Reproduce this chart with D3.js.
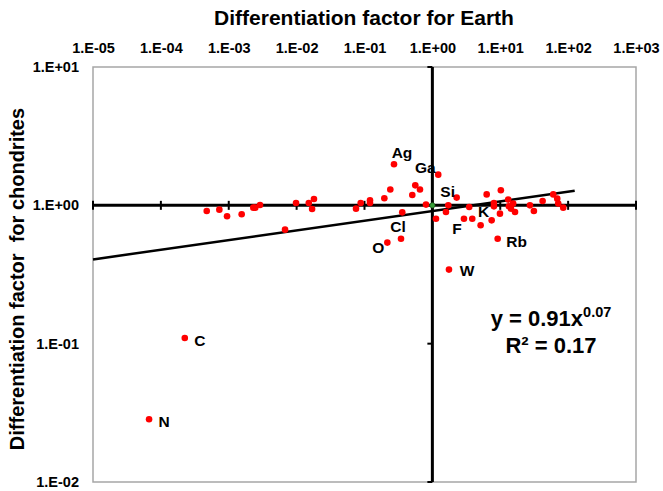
<!DOCTYPE html>
<html>
<head>
<meta charset="utf-8">
<script src="https://cdn.jsdelivr.net/npm/d3@7"></script>
<style>
  html, body { margin: 0; padding: 0; background: #fff; }
  svg { display: block; font-family: "Liberation Sans", Arial, sans-serif; }
</style>
</head>
<body>
<svg id="chart" width="663" height="491"></svg>
<script>
// Differentiation factors: Earth (x) vs chondrites (y), one entry per element
const earthFactor = [
  4.74e-4, 7.27e-4, 9.44e-4, 1.55e-3, 2.30e-3, 2.46e-3, 2.89e-3, 6.75e-3, 9.8e-3, 1.51e-2, 1.80e-2, 1.69e-2,
  0.272, 1.22, 0.56, 0.657, 0.506, 0.240, 0.196, 0.1205, 0.1205, 0.0879, 0.075, 0.360, 0.805,
  1.13, 1.585, 1.715, 2.28, 0.345, 0.217, 1.756,
  3.49, 2.92, 3.87, 5.14, 7.47, 9.90, 6.31, 10.2, 8.07, 8.07, 13.1, 13.4, 15.5, 16.5, 14.4,
  27.4, 31.3, 42.1, 60.4, 69.1, 71.5, 84.7, 9.16,
  2.25e-4, 6.70e-5
];
const chondriteFactor = [
  0.909, 0.931, 0.833, 0.861, 0.962, 0.962, 1.005, 0.667, 1.039, 1.039, 1.11, 0.940,
  1.98, 1.667, 1.395, 1.30, 1.187, 1.30, 1.124, 1.087, 1.039, 1.039, 0.946, 0.890, 1.012,
  0.80, 0.895, 1.0, 1.137, 0.574, 0.538, 0.343,
  0.972, 0.80, 0.80, 0.717, 0.779, 0.871, 1.20, 1.284, 1.039, 0.983, 1.10, 0.983, 1.029, 0.895, 0.946,
  1.0, 0.909, 1.074, 1.20, 1.118, 1.029, 0.962, 0.574,
  0.1098, 0.0284
];
const pointLabels = [
  "", "", "", "", "", "", "", "", "", "", "", "",
  "Ag", "Ga", "", "", "", "", "", "", "", "", "", "", "",
  "", "", "", "Si", "Cl", "O", "W",
  "", "F", "", "", "K", "", "", "", "", "", "", "", "", "", "",
  "", "", "", "", "", "", "", "Rb",
  "C", "N"
];
// reference point at (1, 1)
const unityPoint = [1, 1];

// power-law trend y = a·x^b
const trendA = 0.91, trendB = 0.07, trendR2 = 0.17;
const trendRange = [1e-5, 125];

const xTickValues = [1e-5, 1e-4, 1e-3, 1e-2, 1e-1, 1e0, 1e1, 1e2, 1e3];
const xTickLabels = ["1.E-05", "1.E-04", "1.E-03", "1.E-02", "1.E-01", "1.E+00", "1.E+01", "1.E+02", "1.E+03"];
const yTickValues = [1e-2, 1e-1, 1e0, 1e1];
const yTickLabels = ["1.E-02", "1.E-01", "1.E+00", "1.E+01"];

// label placement relative to each labelled point (label centre)
const labelOffset = {
  Ag: [8, -12], Ga: [-13, -7], Si: [-9, -6], Cl: [-3, -12], O: [-9, 5],
  W: [18, 1], F: [-7, 10], K: [-8, -9], Rb: [19, 3], C: [15, 2], N: [15, 2]
};

const svg = d3.select("#chart");
const plotLeft = 93, plotRight = 636, plotTop = 67, plotBottom = 482;

const x = d3.scaleLog().domain([1e-5, 1e3]).range([plotLeft, plotRight]);
const y = d3.scaleLog().domain([1e-2, 1e1]).range([plotBottom, plotTop]);

// plot frame
svg.append("rect")
  .attr("x", plotLeft).attr("y", plotTop)
  .attr("width", plotRight - plotLeft).attr("height", plotBottom - plotTop)
  .attr("fill", "#fff").attr("stroke", "#a6a6a6").attr("stroke-width", 1.5);

// tick labels along the top and left
const topAxis = d3.axisTop(x).tickValues(xTickValues)
  .tickFormat((d, i) => xTickLabels[i]).tickSize(0).tickPadding(14);
svg.append("g").attr("transform", `translate(0,${plotTop})`).call(topAxis)
  .call(g => g.select(".domain").remove())
  .selectAll("text")
  .attr("font-family", "Liberation Sans, Arial, sans-serif")
  .attr("font-size", 14.5).attr("font-weight", "bold").attr("fill", "#000");

const leftAxis = d3.axisLeft(y).tickValues(yTickValues)
  .tickFormat((d, i) => yTickLabels[i]).tickSize(0).tickPadding(14);
svg.append("g").attr("transform", `translate(${plotLeft},0)`).call(leftAxis)
  .call(g => g.select(".domain").remove())
  .selectAll("text")
  .attr("font-family", "Liberation Sans, Arial, sans-serif")
  .attr("font-size", 14.5).attr("font-weight", "bold").attr("fill", "#000");

// crossing axes through (1, 1)
const axes = svg.append("g").attr("stroke", "#000");
axes.append("line")
  .attr("x1", plotLeft).attr("x2", plotRight)
  .attr("y1", y(1)).attr("y2", y(1)).attr("stroke-width", 3);
axes.selectAll(".xtick").data(xTickValues).join("line")
  .attr("class", "xtick")
  .attr("x1", d => x(d)).attr("x2", d => x(d))
  .attr("y1", y(1) - 4.5).attr("y2", y(1) + 4.5).attr("stroke-width", 2);
axes.append("line")
  .attr("x1", x(1)).attr("x2", x(1))
  .attr("y1", plotTop).attr("y2", plotBottom).attr("stroke-width", 3);
axes.selectAll(".ytick").data(yTickValues).join("line")
  .attr("class", "ytick")
  .attr("x1", x(1) - 5).attr("x2", x(1))
  .attr("y1", d => y(d)).attr("y2", d => y(d)).attr("stroke-width", 2);

// trend line
const trendFn = v => trendA * Math.pow(v, trendB);
svg.append("line")
  .attr("x1", x(trendRange[0])).attr("y1", y(trendFn(trendRange[0])))
  .attr("x2", x(trendRange[1])).attr("y2", y(trendFn(trendRange[1])))
  .attr("stroke", "#000").attr("stroke-width", 2.5);

// data points
const points = earthFactor.map((v, i) => ({ x: v, y: chondriteFactor[i], label: pointLabels[i] }));
svg.append("g").selectAll("circle").data(points).join("circle")
  .attr("cx", d => x(d.x)).attr("cy", d => y(d.y)).attr("r", 3.3)
  .attr("fill", "#ff0000");

svg.append("circle")
  .attr("cx", x(unityPoint[0])).attr("cy", y(unityPoint[1])).attr("r", 2.6)
  .attr("fill", "#3aa03a").attr("stroke", "#1f5f1f").attr("stroke-width", 0.8);

// element labels
svg.append("g").selectAll("text").data(points.filter(d => d.label)).join("text")
  .attr("x", d => x(d.x) + labelOffset[d.label][0])
  .attr("y", d => y(d.y) + labelOffset[d.label][1])
  .attr("text-anchor", "middle").attr("dominant-baseline", "central")
  .attr("font-size", 15.5).attr("font-weight", "bold").attr("fill", "#000")
  .text(d => d.label);

// trend equation
const eq = svg.append("text").attr("x", 551).attr("y", 326)
  .attr("text-anchor", "middle").attr("font-size", 22).attr("font-weight", "bold");
eq.append("tspan").text(`y = ${trendA}x`);
eq.append("tspan").attr("font-size", 14.5).attr("dy", -9).text(trendB.toFixed(2));
svg.append("text").attr("x", 551).attr("y", 353)
  .attr("text-anchor", "middle").attr("font-size", 22).attr("font-weight", "bold")
  .text(`R² = ${trendR2}`);

// axis titles
svg.append("text").attr("x", 364).attr("y", 25)
  .attr("text-anchor", "middle").attr("font-size", 21).attr("font-weight", "bold")
  .text("Differentiation factor for Earth");
svg.append("text")
  .attr("transform", `translate(24,279) rotate(-90)`)
  .attr("text-anchor", "middle").attr("font-size", 20).attr("font-weight", "bold")
  .attr("xml:space", "preserve")
  .text("Differentiation factor  for chondrites");
</script>
</body>
</html>
